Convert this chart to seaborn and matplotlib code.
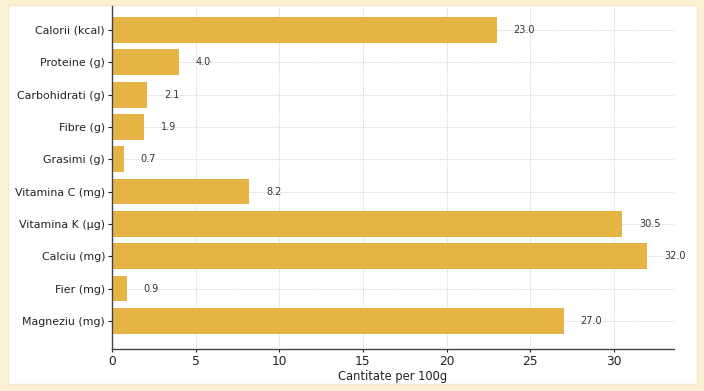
import seaborn as sns
import pandas as pd
import matplotlib.pyplot as plt
from matplotlib.patches import Rectangle

nutrients = ['Calorii (kcal)', 'Proteine (g)', 'Carbohidrati (g)', 'Fibre (g)', 'Grasimi (g)',
             'Vitamina C (mg)', 'Vitamina K (µg)', 'Calciu (mg)', 'Fier (mg)', 'Magneziu (mg)']
amounts = [23.0, 4.0, 2.1, 1.9, 0.7, 8.2, 30.5, 32.0, 0.9, 27.0]

df = pd.DataFrame({'nutrient': nutrients, 'amount': amounts})

sns.set_style('white')
plt.rcParams['font.family'] = ['DejaVu Sans']

fig = plt.figure(figsize=(7.04, 3.91), dpi=100)
fig.patch.set_facecolor('#FBF0D4')
# white card inside the cream frame
fig.patches.append(Rectangle((8 / 704, 7 / 391), 689 / 704, 379 / 391,
                             transform=fig.transFigure, facecolor='white',
                             edgecolor='#F6E9C4', linewidth=1, zorder=-10))

ax = fig.add_axes([112 / 704, 42 / 391, 562 / 704, 343 / 391])
ax.set_zorder(1)
ax.set_facecolor('none')
sns.barplot(data=df, x='amount', y='nutrient', color='#E5B445', saturation=1,
            width=0.8, linewidth=0, ax=ax, zorder=2)

for i, v in enumerate(amounts):
    ax.text(v + 1, i, f'{v:.1f}', va='center', ha='left', fontsize=7, color='#333333', zorder=3)

ax.set_xlim(0, 33.6)
ax.set_ylim(9.87, -0.74)
ax.set_xticks([0, 5, 10, 15, 20, 25, 30])
ax.grid(True, linestyle=(0, (2, 1)), color='#dadada', linewidth=0.6, zorder=0)
ax.set_axisbelow(True)
ax.set_xlabel('Cantitate per 100g', fontsize=8.3, color='#222222', labelpad=2)
ax.set_ylabel('')
ax.tick_params(axis='y', labelsize=7.9, left=True, length=3, width=0.8, pad=2, colors='#222222')
ax.tick_params(axis='x', labelsize=8.8, bottom=True, length=2, width=0.8, pad=2, colors='#222222')
for s in ['top', 'right']:
    ax.spines[s].set_visible(False)
for s in ['left', 'bottom']:
    ax.spines[s].set_color('#444444')
    ax.spines[s].set_linewidth(1)

fig.savefig('out.png', dpi=100, facecolor=fig.get_facecolor())
